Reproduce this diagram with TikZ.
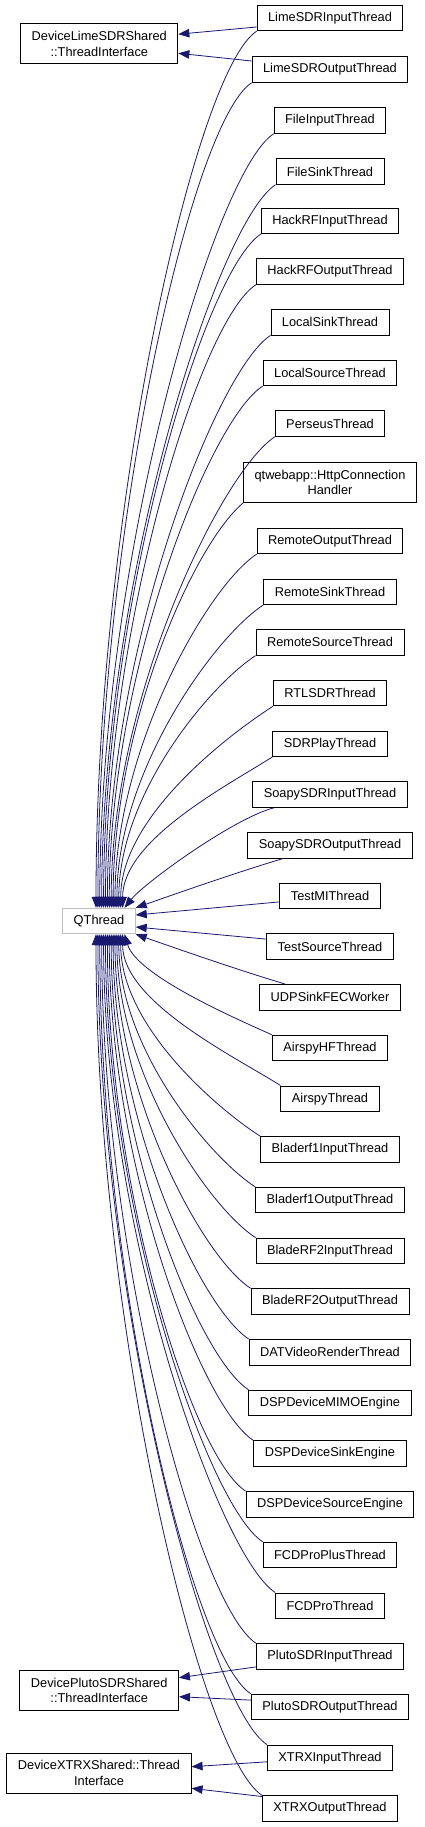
\documentclass[tikz,border=0pt]{standalone}
\usepackage{fontspec}
\setmainfont{Liberation Sans}
\usetikzlibrary{calc,arrows.meta}
\definecolor{edgeblue}{RGB}{25,25,112}
\definecolor{qgray}{RGB}{191,191,191}
\begin{document}
\begin{tikzpicture}[x=1pt,y=-1pt,
  box/.style={draw=black, line width=0.9pt, fill=white, inner xsep=11pt, inner ysep=0pt,
    minimum height=25.5pt, font=\fontsize{12.8}{15.7}\selectfont, align=center},
  tall/.style={minimum height=40pt},
  qbox/.style={box, draw=qgray},
  edge/.style={draw=edgeblue, line width=0.8pt, -{Triangle[length=11pt,width=8.5pt]}}]
\useasboundingbox (0,0) rectangle (424,1827);
% left nodes
\node[box,tall] (lime) at (99.3,43.7) {DeviceLimeSDRShared\\::ThreadInterface};
\node[qbox] (q) at (99,921) {QThread};
\node[box,tall] (pluto) at (99.2,1690.5) {DevicePlutoSDRShared\\::ThreadInterface};
\node[box,tall] (xtrx) at (99,1773) {DeviceXTRXShared::Thread\\Interface};
% right nodes
\node[box] (c1) at (330,18) {LimeSDRInputThread};
\node[box] (c2) at (330,69.5) {LimeSDROutputThread};
\node[box] (c3) at (330,120.5) {FileInputThread};
\node[box] (c4) at (330,171.5) {FileSinkThread};
\node[box] (c5) at (330,220.8) {HackRFInputThread};
\node[box] (c6) at (330,271.5) {HackRFOutputThread};
\node[box] (c7) at (330,322.2) {LocalSinkThread};
\node[box] (c8) at (330,372.9) {LocalSourceThread};
\node[box] (c9) at (330,423.6) {PerseusThread};
\node[box,tall] (c10) at (330,482.5) {qtwebapp::HttpConnection\\Handler};
\node[box] (c11) at (330,541) {RemoteOutputThread};
\node[box] (c12) at (330,591.7) {RemoteSinkThread};
\node[box] (c13) at (330,642.4) {RemoteSourceThread};
\node[box] (c14) at (330,693.1) {RTLSDRThread};
\node[box] (c15) at (330,743.8) {SDRPlayThread};
\node[box] (c16) at (330,794.5) {SoapySDRInputThread};
\node[box] (c17) at (330,845.2) {SoapySDROutputThread};
\node[box] (c18) at (330,895.9) {TestMIThread};
\node[box] (c19) at (330,946.6) {TestSourceThread};
\node[box] (c20) at (330,997.3) {UDPSinkFECWorker};
\node[box] (c21) at (330,1048) {AirspyHFThread};
\node[box] (c22) at (330,1098.7) {AirspyThread};
\node[box] (c23) at (330,1149.4) {Bladerf1InputThread};
\node[box] (c24) at (330,1200.1) {Bladerf1OutputThread};
\node[box] (c25) at (330,1250.8) {BladeRF2InputThread};
\node[box] (c26) at (330,1301.5) {BladeRF2OutputThread};
\node[box] (c27) at (330,1352.2) {DATVideoRenderThread};
\node[box] (c28) at (330,1402.9) {DSPDeviceMIMOEngine};
\node[box] (c29) at (330,1453.6) {DSPDeviceSinkEngine};
\node[box] (c30) at (330,1504.3) {DSPDeviceSourceEngine};
\node[box] (c31) at (330,1555) {FCDProPlusThread};
\node[box] (c32) at (330,1605.7) {FCDProThread};
\node[box] (c33) at (330,1656.4) {PlutoSDRInputThread};
\node[box] (c34) at (330,1707.1) {PlutoSDROutputThread};
\node[box] (c35) at (330,1757.8) {XTRXInputThread};
\node[box] (c36) at (330,1808.5) {XTRXOutputThread};
% edges to QThread (upper)
\draw[edge] (c1.south west) .. controls +(-62,40) and +(0,-395) .. ($(q.north)+(-3,0)$);
\draw[edge] (c2.south west) .. controls +(-61,40) and +(0,-372) .. ($(q.north)+(-1.1,0)$);
\draw[edge] (c3.south west) .. controls +(-59,38) and +(0,-349) .. ($(q.north)+(0.8,0)$);
\draw[edge] (c4.south west) .. controls +(-58,38) and +(0,-326) .. ($(q.north)+(2.7,0)$);
\draw[edge] (c5.south west) .. controls +(-57,37) and +(0,-303) .. ($(q.north)+(4.6,0)$);
\draw[edge] (c6.south west) .. controls +(-56,36) and +(0,-280) .. ($(q.north)+(6.5,0)$);
\draw[edge] (c7.south west) .. controls +(-54,35) and +(0,-258) .. ($(q.north)+(8.4,0)$);
\draw[edge] (c8.south west) .. controls +(-53,34) and +(0,-235) .. ($(q.north)+(10.3,0)$);
\draw[edge] (c9.south west) .. controls +(-52,34) and +(0,-212) .. ($(q.north)+(12.2,0)$);
\draw[edge] (c10.south west) .. controls +(-50,42) and +(0,-182) .. ($(q.north)+(14.1,0)$);
\draw[edge] (c11.south west) .. controls +(-49,32) and +(0,-159) .. ($(q.north)+(16,0)$);
\draw[edge] (c12.south west) .. controls +(-48,31) and +(0,-137) .. ($(q.north)+(17.9,0)$);
\draw[edge] (c13.south west) .. controls +(-46,30) and +(0,-114) .. ($(q.north)+(19.8,0)$);
\draw[edge] (c14.south west) .. controls +(-45,29) and +(0,-91) .. ($(q.north)+(21.7,0)$);
\draw[edge] (c15.south west) .. controls +(-44,28) and +(0,-68) .. ($(q.north)+(23.6,0)$);
\draw[edge] ($(c16.south west)+(22,0)$) .. controls +(-40,10) and +(20,-25) .. ($(q.north)+(25.5,0)$);
\draw[edge] ($(c17.south west)+(36,0)$) .. controls +(-50,15) and +(40,-14) .. (q.north east);
\draw[edge] ($(c18.west)+(0,6)$) -- ($(q.east)+(0,-6)$);
\draw[edge] ($(c19.west)+(0,-7.5)$) -- ($(q.east)+(0,6)$);
% edges to QThread (lower)
\draw[edge] ($(c20.north west)+(26,0)$) .. controls +(-50,-15) and +(40,14) .. (q.south east);
\draw[edge] (c21.north west) .. controls +(-45,-20) and +(12,40) .. ($(q.south)+(25.5,0)$);
\draw[edge] (c22.north west) .. controls +(-44,-28) and +(0,68) .. ($(q.south)+(23.6,0)$);
\draw[edge] (c23.north west) .. controls +(-45,-29) and +(0,91) .. ($(q.south)+(21.7,0)$);
\draw[edge] (c24.north west) .. controls +(-46,-30) and +(0,114) .. ($(q.south)+(19.8,0)$);
\draw[edge] (c25.north west) .. controls +(-48,-31) and +(0,137) .. ($(q.south)+(17.9,0)$);
\draw[edge] (c26.north west) .. controls +(-49,-32) and +(0,159) .. ($(q.south)+(16,0)$);
\draw[edge] (c27.north west) .. controls +(-50,-33) and +(0,182) .. ($(q.south)+(14.1,0)$);
\draw[edge] (c28.north west) .. controls +(-51,-33) and +(0,205) .. ($(q.south)+(12.2,0)$);
\draw[edge] (c29.north west) .. controls +(-53,-34) and +(0,228) .. ($(q.south)+(10.3,0)$);
\draw[edge] (c30.north west) .. controls +(-54,-35) and +(0,251) .. ($(q.south)+(8.4,0)$);
\draw[edge] (c31.north west) .. controls +(-55,-36) and +(0,274) .. ($(q.south)+(6.5,0)$);
\draw[edge] (c32.north west) .. controls +(-56,-37) and +(0,296) .. ($(q.south)+(4.6,0)$);
\draw[edge] (c33.north west) .. controls +(-58,-38) and +(0,319) .. ($(q.south)+(2.7,0)$);
\draw[edge] (c34.north west) .. controls +(-59,-38) and +(0,342) .. ($(q.south)+(0.8,0)$);
\draw[edge] (c35.north west) .. controls +(-60,-39) and +(0,365) .. ($(q.south)+(-1.1,0)$);
\draw[edge] (c36.north west) .. controls +(-62,-40) and +(0,388) .. ($(q.south)+(-3,0)$);
% edges to interface nodes
\draw[edge] ($(c1.west)+(0,9)$) -- ($(lime.east)+(0,-9.5)$);
\draw[edge] ($(c2.west)+(0,-8.5)$) -- ($(lime.east)+(0,9.6)$);
\draw[edge] ($(c33.west)+(0,10.5)$) -- ($(pluto.east)+(0,-12.8)$);
\draw[edge] ($(c34.west)+(0,-7)$) -- ($(pluto.east)+(0,6.2)$);
\draw[edge] ($(c35.west)+(0,4)$) -- ($(xtrx.east)+(0,-6.3)$);
\draw[edge] ($(c36.west)+(0,-12)$) -- ($(xtrx.east)+(0,15.3)$);
\end{tikzpicture}
\end{document}
